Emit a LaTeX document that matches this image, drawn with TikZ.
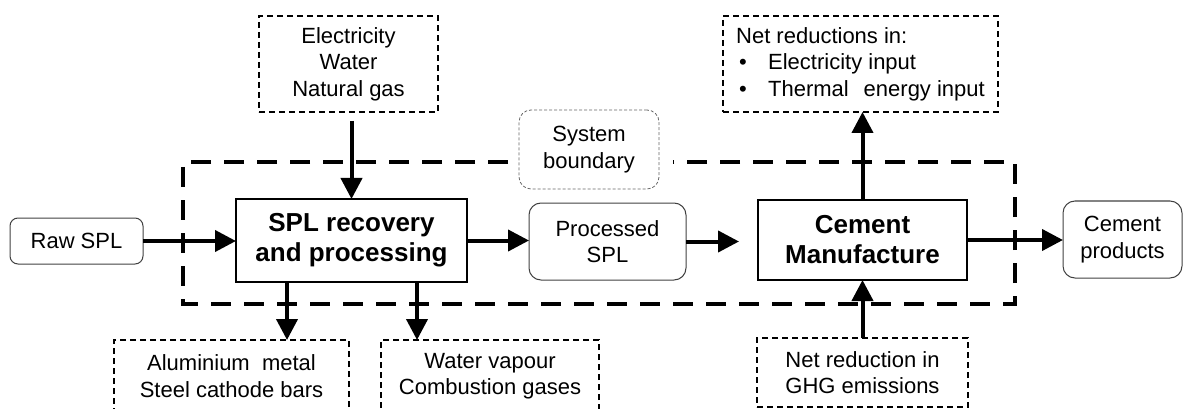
\documentclass[tikz,border=0pt]{standalone}
\usepackage{fontspec}
\setmainfont{Liberation Sans}
\usetikzlibrary{arrows.meta}
\begin{document}
\begin{tikzpicture}[x=1pt,y=-1pt,
  every node/.style={inner sep=0pt, outer sep=0pt},
  txt/.style={font=\fontsize{22}{26.5}\selectfont, align=center},
  dbox/.style={txt, draw, line width=1.6pt, dash pattern=on 6pt off 4pt},
  rbox/.style={txt, draw=black!75, line width=1pt, rounded corners=12pt},
  pbox/.style={draw, line width=2pt, font=\fontsize{26}{30}\selectfont\bfseries, align=center},
  sbox/.style={txt, draw=black!60, line width=0.8pt, dash pattern=on 3pt off 2pt, rounded corners=12pt, fill=white},
  arr/.style={line width=4pt, -{Triangle[length=21pt,width=21pt]}},
  bound/.style={line width=4.5pt, dash pattern=on 20pt off 13pt}
]
\useasboundingbox (0,0) rectangle (1184,409);

% system boundary (shape)
\draw[bound] (508,162) -- (183,162) -- (183,304) -- (1015,304) -- (1015,162) -- (673,162);

\node[sbox, minimum width=140pt, minimum height=79pt] (sysb) at (589,149.5) {System\\boundary};

\node[dbox, minimum width=179pt, minimum height=96pt] (elec) at (348.5,64) {Electricity\\Water\\Natural gas};
\node[dbox, align=left, minimum width=275pt, minimum height=96pt] (netred) at (860.5,64)
  {Net reductions in:\\\makebox[32pt][l]{\hspace{3pt}•}Electricity input\\\makebox[32pt][l]{\hspace{3pt}•}Thermal\hspace{0.4em} energy input};

\node[rbox, rounded corners=8pt, minimum width=133pt, minimum height=46pt] (raw) at (76.5,241) {Raw SPL};
\node[pbox, minimum width=231pt, minimum height=83pt] (spl) at (351.5,240.5) {SPL recovery\\and processing};
\node[rbox, minimum width=157pt, minimum height=77pt] (procspl) at (607.5,241.5) {Processed\\SPL};
\node[pbox, minimum width=209pt, minimum height=80pt] (cement) at (862.5,240) {Cement\\Manufacture};
\node[rbox, minimum width=119pt, minimum height=77pt] (prod) at (1122.5,239.5) {Cement\\products};

\node[dbox, minimum width=235pt, minimum height=72pt] (alu) at (231.5,376) {Aluminium\ \ metal\\Steel cathode bars};
\node[dbox, minimum width=218pt, minimum height=72pt] (water) at (490,376) {Water vapour\\Combustion gases};
\node[dbox, minimum width=211pt, minimum height=69pt] (ghg) at (862.5,372.5) {Net reduction in\\GHG emissions};

% connectors
\draw[arr] (raw.east) -- (raw.east -| spl.west);
\draw[arr] (spl.east) -- (spl.east -| procspl.west);
\draw[arr, shorten >=19pt] (procspl.east) -- (procspl.east -| cement.west);
\draw[arr] (cement.east) -- (cement.east -| prod.west);
\draw[arr, shorten <=9pt] (elec.south -| spl.north) -- (spl.north);
\draw[arr] (cement.north) -- (cement.north |- netred.south);
\draw[arr] ([xshift=-64.5pt]spl.south) -- ([xshift=-64.5pt]spl.south |- alu.north);
\draw[arr] ([xshift=65.5pt]spl.south) -- ([xshift=65.5pt]spl.south |- water.north);
\draw[arr] (ghg.north) -- (ghg.north |- cement.south);
\end{tikzpicture}
\end{document}
